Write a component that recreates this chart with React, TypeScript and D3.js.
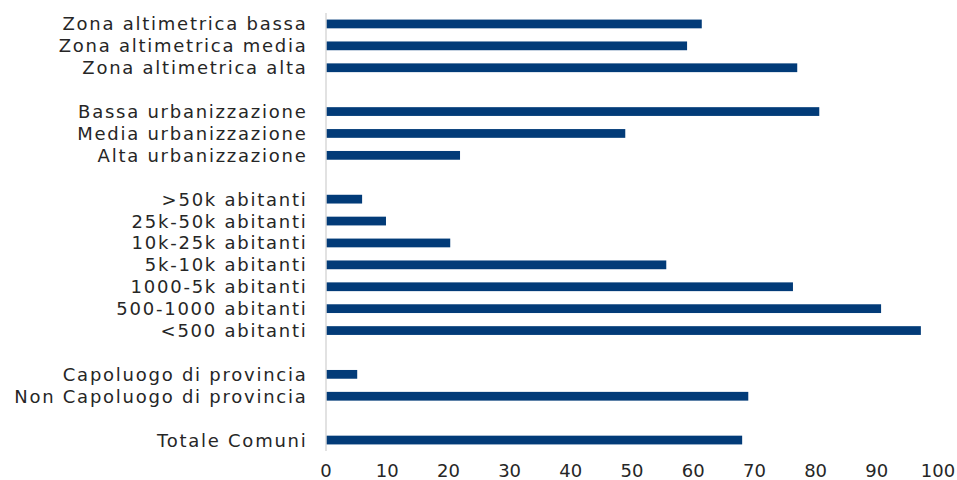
import { useEffect } from 'react';
import * as d3 from 'd3';

// Categories from top to bottom, split in groups separated by an empty row
const groups: string[][] = [
  ['Zona altimetrica bassa', 'Zona altimetrica media', 'Zona altimetrica alta'],
  ['Bassa urbanizzazione', 'Media urbanizzazione', 'Alta urbanizzazione'],
  ['>50k abitanti', '25k-50k abitanti', '10k-25k abitanti', '5k-10k abitanti', '1000-5k abitanti', '500-1000 abitanti', '<500 abitanti'],
  ['Capoluogo di provincia', 'Non Capoluogo di provincia'],
  ['Totale Comuni'],
];

const values: number[] = [
  61.4, 59.0, 77.0,
  80.6, 48.9, 21.9,
  5.9, 9.8, 20.3, 55.6, 76.3, 90.7, 97.2,
  5.1, 69.0,
  68.0,
];

const xTicks = [0, 10, 20, 30, 40, 50, 60, 70, 80, 90, 100];

const width = 957;
const height = 480;
const margin = { top: 13, right: 19, bottom: 29, left: 326 };
const font = '"DejaVu Sans", sans-serif';

const App = () => {
  useEffect(() => {
    document.body.style.margin = '0';
  }, []);

  // domain with gap slots between groups
  const slots: string[] = [];
  groups.forEach((g, i) => {
    slots.push(...g);
    if (i < groups.length - 1) slots.push(`__gap${i}`);
  });
  const labels = groups.flat();
  const data = labels.map((label, i) => ({ label, value: values[i] }));

  const x = d3.scaleLinear().domain([0, 100]).range([margin.left, width - margin.right]);
  const y = d3.scaleBand<string>()
    .domain(slots)
    .range([margin.top, height - margin.bottom])
    .paddingInner(0.6)
    .paddingOuter(0.3);

  return (
    <svg width={width} height={height} style={{ display: 'block', background: '#fff' }}>
      {data.map(d => (
        <rect
          key={d.label}
          x={x(0)}
          y={y(d.label)}
          width={x(d.value) - x(0)}
          height={y.bandwidth()}
          fill="#023b78"
        />
      ))}
      <line
        x1={x(0)}
        x2={x(0)}
        y1={margin.top}
        y2={height - margin.bottom}
        stroke="#d9d9d9"
        strokeWidth={1.5}
      />
      {data.map(d => (
        <text
          key={d.label}
          x={307.5}
          y={(y(d.label) as number) + y.bandwidth() / 2}
          dy="0.36em"
          textAnchor="end"
          fontFamily={font}
          fontSize={18}
          letterSpacing={1.75}
          fill="#262626"
        >
          {d.label}
        </text>
      ))}
      {xTicks.map(t => (
        <text
          key={t}
          x={x(t)}
          y={height - 3}
          textAnchor="middle"
          fontFamily={font}
          fontSize={18}
          fill="#262626"
        >
          {t}
        </text>
      ))}
    </svg>
  );
};

export default App;
